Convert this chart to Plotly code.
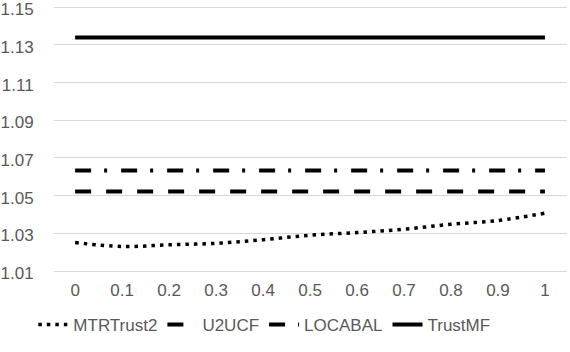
import plotly.graph_objects as go

x_vals = [0, 0.1, 0.2, 0.3, 0.4, 0.5, 0.6, 0.7, 0.8, 0.9, 1]
x_labels = ["0", "0.1", "0.2", "0.3", "0.4", "0.5", "0.6", "0.7", "0.8", "0.9", "1"]
mtrtrust2 = [1.0251, 1.0230, 1.0239, 1.0247, 1.0266, 1.0290, 1.0304, 1.0322, 1.0348, 1.0368, 1.0407]
u2ucf = [1.0522] * 11
locabal = [1.0634] * 11
trustmf = [1.1339] * 11
y_ticks = [1.01, 1.03, 1.05, 1.07, 1.09, 1.11, 1.13, 1.15]

fig = go.Figure()
fig.add_trace(go.Scatter(x=x_vals, y=mtrtrust2, mode="lines", name="MTRTrust2",
                         line=dict(color="black", width=3.5, dash="3.5px,5px", shape="spline")))
fig.add_trace(go.Scatter(x=x_vals, y=u2ucf, mode="lines", name="U2UCF",
                         line=dict(color="black", width=4, dash="16px,15px")))
fig.add_trace(go.Scatter(x=x_vals, y=locabal, mode="lines", name="LOCABAL",
                         line=dict(color="black", width=4, dash="16px,13px,3px,14px")))
fig.add_trace(go.Scatter(x=x_vals, y=trustmf, mode="lines", name="TrustMF",
                         line=dict(color="black", width=4)))

fig.update_layout(
    width=570, height=352,
    margin=dict(l=54, r=3, t=5, b=79, autoexpand=False),
    paper_bgcolor="white", plot_bgcolor="white",
    font=dict(family="Liberation Sans, Arial, sans-serif", size=17, color="#595959"),
    showlegend=True,
    legend=dict(orientation="h", x=0.41, xanchor="center", y=-0.127, yanchor="top",
                font=dict(size=17, color="#595959"), itemwidth=30, tracegroupgap=0),
    xaxis=dict(range=[-0.045, 1.047], tickvals=x_vals, ticktext=x_labels,
               showgrid=False, zeroline=False, showline=False, ticks="outside",
               tickcolor="rgba(0,0,0,0)", ticklen=2, automargin=False,
               tickfont=dict(size=17, color="#595959")),
    yaxis=dict(range=[1.00894, 1.15122], tickvals=y_ticks, ticktext=[f"{v:.2f}" for v in y_ticks],
               showgrid=True, gridcolor="#d9d9d9", gridwidth=1, zeroline=False,
               showline=False, ticks="outside", tickcolor="rgba(0,0,0,0)", ticklen=16,
               automargin=False, ticklabeloverflow="allow", ticklabelshift=2,
               tickfont=dict(size=17, color="#595959")),
)

fig.write_html("out.html", config={"displayModeBar": False},
               post_script="document.body.style.margin='0';")
